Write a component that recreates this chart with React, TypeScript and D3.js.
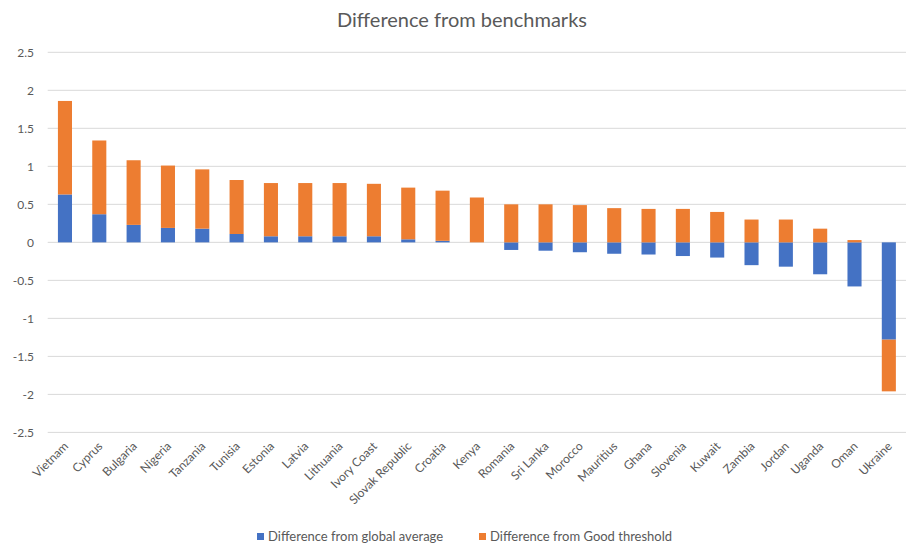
import React from "react";
import * as d3 from "d3";

const countries = [
  "Vietnam", "Cyprus", "Bulgaria", "Nigeria", "Tanzania", "Tunisia", "Estonia",
  "Latvia", "Lithuania", "Ivory Coast", "Slovak Republic", "Croatia", "Kenya",
  "Romania", "Sri Lanka", "Morocco", "Mauritius", "Ghana", "Slovenia", "Kuwait",
  "Zambia", "Jordan", "Uganda", "Oman", "Ukraine",
];
// difference from global average (blue)
const globalAvg = [
  0.63, 0.37, 0.23, 0.19, 0.18, 0.11, 0.08, 0.08, 0.08, 0.08, 0.04, 0.02, 0,
  -0.1, -0.11, -0.13, -0.15, -0.16, -0.18, -0.2, -0.3, -0.32, -0.42, -0.58, -1.28,
];
// difference from Good threshold (orange)
const goodThreshold = [
  1.23, 0.97, 0.85, 0.82, 0.78, 0.71, 0.7, 0.7, 0.7, 0.69, 0.68, 0.66, 0.59,
  0.5, 0.5, 0.49, 0.45, 0.44, 0.44, 0.4, 0.3, 0.3, 0.18, 0.03, -0.68,
];
const yTicks = [2.5, 2, 1.5, 1, 0.5, 0, -0.5, -1, -1.5, -2, -2.5];
const seriesNames = ["Difference from global average", "Difference from Good threshold"];
const colors = ["#4472C4", "#ED7D31"];

const W = 907, H = 548;
const font = "Lato, 'Open Sans', sans-serif";

export default function App() {
  const x = d3.scaleBand().domain(countries).range([47.8, 906]).paddingInner(0.59).paddingOuter(0.295);
  const y = d3.scaleLinear().domain([-2.5, 2.5]).range([432.4, 52.3]);

  const rows = countries.map((c, i) => ({ c, a: globalAvg[i], b: goodThreshold[i] }));
  const stacked = d3.stack<any>().keys(["a", "b"]).offset(d3.stackOffsetDiverging)(rows);

  return (
    <svg width={W} height={H} style={{ position: "absolute", left: 0, top: 0, background: "#fff" }} fontFamily={font}>
      <text x={462} y={27} textAnchor="middle" fontSize={20} fill="#595959">Difference from benchmarks</text>
      {yTicks.map((t) => (
        <g key={t}>
          <line x1={47.7} x2={906} y1={y(t)} y2={y(t)} stroke="#D9D9D9" strokeWidth={1} />
          <text x={34} y={y(t)} dy="0.35em" textAnchor="end" fontSize={12} fill="#595959">{t}</text>
        </g>
      ))}
      {stacked.map((s, si) => (
        <g key={si} fill={colors[si]}>
          {s.map((d, i) => {
            const y0 = y(Math.max(d[0], d[1]));
            const y1 = y(Math.min(d[0], d[1]));
            return <rect key={i} x={x(countries[i])} width={x.bandwidth()} y={y0} height={Math.max(0, y1 - y0)} />;
          })}
        </g>
      ))}
      {countries.map((c) => {
        const cx = (x(c) as number) + x.bandwidth() / 2;
        return (
          <text key={c} transform={`translate(${cx + 4},${447}) rotate(-45)`} textAnchor="end" fontSize={12} fill="#595959">{c}</text>
        );
      })}
      <g fontSize={13} fill="#595959">
        <rect x={257} y={533} width={7} height={7} fill={colors[0]} />
        <text x={268} y={541}>{seriesNames[0]}</text>
        <rect x={479} y={533} width={7} height={7} fill={colors[1]} />
        <text x={490} y={541}>{seriesNames[1]}</text>
      </g>
    </svg>
  );
}
